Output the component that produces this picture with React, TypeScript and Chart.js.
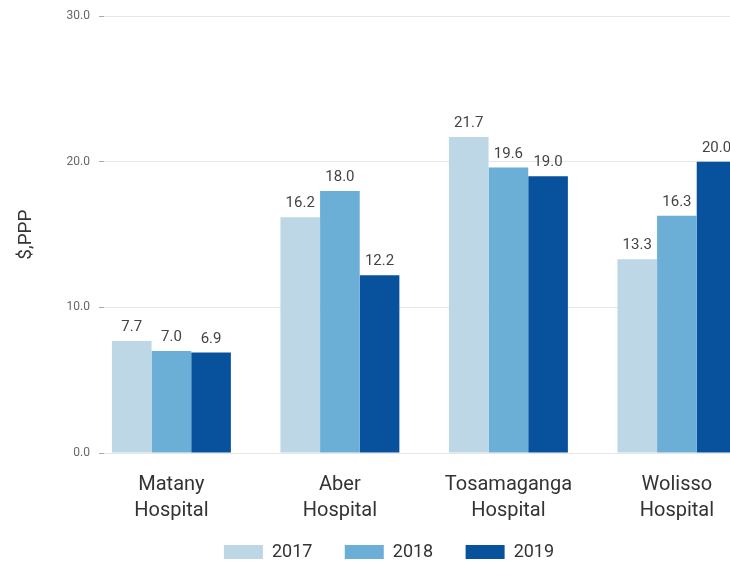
import React, { useEffect, useRef } from "react";
import { Chart, registerables } from "chart.js";

Chart.register(...registerables);

const categories: string[][] = [
  ["Matany", "Hospital"],
  ["Aber", "Hospital"],
  ["Tosamaganga", "Hospital"],
  ["Wolisso", "Hospital"],
];
const years = ["2017", "2018", "2019"];
const values2017 = [7.7, 16.2, 21.7, 13.3];
const values2018 = [7.0, 18.0, 19.6, 16.3];
const values2019 = [6.9, 12.2, 19.0, 20.0];
const yTicks = [0, 10, 20, 30];
const yTitle = "$,PPP";
const colors = ["#bdd7e7", "#6baed6", "#08519c"];

const FONT = "Roboto, 'Noto Sans', sans-serif";

const valueLabels = {
  id: "valueLabels",
  afterDatasetsDraw(chart: any) {
    const ctx = chart.ctx;
    ctx.save();
    ctx.font = `15px ${FONT}`;
    ctx.fillStyle = "#444";
    ctx.textAlign = "center";
    ctx.textBaseline = "alphabetic";
    chart.data.datasets.forEach((ds: any, di: number) => {
      const meta = chart.getDatasetMeta(di);
      meta.data.forEach((el: any, i: number) => {
        const v = ds.data[i].y as number;
        ctx.fillText(v.toFixed(1), el.x, el.y - 10);
      });
    });
    ctx.restore();
  },
};

export default function App() {
  const ref = useRef<HTMLCanvasElement | null>(null);

  useEffect(() => {
    if (!ref.current) return;
    const series = [values2017, values2018, values2019];
    const chart = new Chart(ref.current, {
      type: "bar",
      data: {
        datasets: years.map((y, k) => ({
          label: y,
          data: series[k].map((v, i) => ({ x: i, y: v })),
          backgroundColor: colors[k],
          borderWidth: 0,
          categoryPercentage: 0.706,
          barPercentage: 1,
        })),
      },
      options: {
        responsive: false,
        animation: false,
        devicePixelRatio: 1,
        layout: { padding: { top: 14, left: 0, right: 2, bottom: 0 } },
        plugins: {
          tooltip: { enabled: false },
          legend: {
            position: "bottom",
            labels: {
              font: { family: FONT, size: 18 },
              color: "#333",
              boxWidth: 39,
              boxHeight: 14,
              padding: 19,
              generateLabels: (chart: any) => {
                const items = Chart.defaults.plugins.legend.labels.generateLabels(chart);
                return items.map((it: any, i: number) => ({
                  ...it,
                  text: i < items.length - 1 ? it.text + "   " : it.text,
                }));
              },
            },
          },
        },
        scales: {
          x: {
            type: "linear",
            min: -0.4,
            max: 3.6,
            offset: false,
            grid: { display: false, drawTicks: false, offset: false },
            border: { display: false },
            afterBuildTicks: (axis: any) => {
              axis.ticks = categories.map((_, i) => ({ value: i }));
            },
            afterFit: (axis: any) => {
              axis.height = 71;
            },
            ticks: {
              autoSkip: false,
              maxRotation: 0,
              padding: 19,
              color: "#333",
              font: { family: FONT, size: 20, lineHeight: 1.3 },
              callback: (v: any) => categories[v as number] ?? "",
            },
          },
          y: {
            min: 0,
            max: 30,
            afterBuildTicks: (axis: any) => {
              axis.ticks = yTicks.map((v) => ({ value: v }));
            },
            afterFit: (axis: any) => {
              axis.width = 104;
            },
            grid: { color: "#e6e6e6", tickColor: "#aaa", tickLength: 5 },
            border: { display: false },
            ticks: {
              padding: 9,
              color: "#666",
              font: { family: FONT, size: 12 },
              callback: (v: any) => Number(v).toFixed(1),
            },
            title: {
              display: true,
              text: yTitle,
              color: "#333",
              font: { family: FONT, size: 19 },
              padding: { top: 15, bottom: 0 },
            },
          },
        },
      },
      plugins: [valueLabels],
    });
    return () => chart.destroy();
  }, []);

  return (
    <div
      style={{
        position: "absolute",
        left: 0,
        top: 0,
        width: 730,
        height: 563,
        overflow: "hidden",
        background: "#fff",
      }}
    >
      <canvas ref={ref} width={780} height={571} style={{ display: "block" }} />
    </div>
  );
}
